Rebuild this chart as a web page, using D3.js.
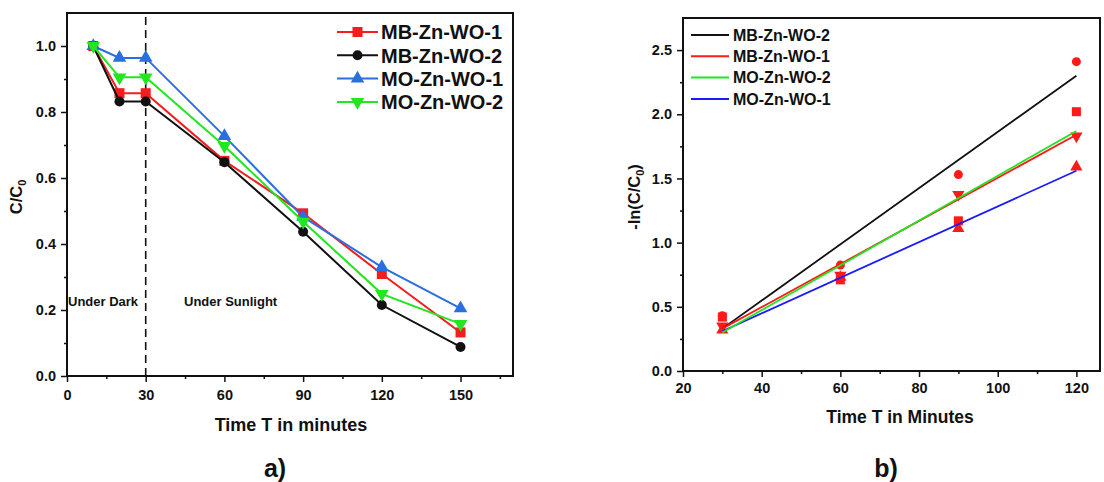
<!DOCTYPE html>
<html>
<head>
<meta charset="utf-8">
<script src="https://cdn.jsdelivr.net/npm/d3@7"></script>
<style>
  body { margin: 0; background: #fff; }
  svg { display: block; font-family: "Liberation Sans", Arial, sans-serif; font-weight: bold; }
</style>
</head>
<body>
<svg id="chart" width="1104" height="482"></svg>
<script>
// panel a) data : C/C0 vs time
const timeA = [10, 20, 30, 60, 90, 120, 150];
const mbZnWo1 = [1.0, 0.857, 0.857, 0.652, 0.493, 0.309, 0.132];
const mbZnWo2 = [1.0, 0.832, 0.832, 0.648, 0.437, 0.215, 0.088];
const moZnWo1 = [1.0, 0.964, 0.964, 0.727, 0.482, 0.330, 0.205];
const moZnWo2 = [1.0, 0.905, 0.905, 0.697, 0.468, 0.249, 0.158];

// panel b) data : -ln(C/C0) points and linear fits
const timeB = [30, 60, 90, 120];
const lnMbZnWo2 = [0.43, 0.825, 1.53, 2.41];
const lnMbZnWo1 = [0.42, 0.71, 1.17, 2.02];
const lnMoZnWo2 = [0.35, 0.745, 1.375, 1.83];
const lnMoZnWo1 = [0.32, 0.73, 1.11, 1.59];
const fitTimes = [30, 120];
const fitMbZnWo2 = [0.33, 2.30];
const fitMbZnWo1 = [0.33, 1.84];
const fitMoZnWo2 = [0.30, 1.87];
const fitMoZnWo1 = [0.31, 1.56];

const ticksAx = [0, 30, 60, 90, 120, 150];
const ticksAy = [0, 0.2, 0.4, 0.6, 0.8, 1.0];
const ticksBx = [20, 40, 60, 80, 100, 120];
const ticksBy = [0, 0.5, 1.0, 1.5, 2.0, 2.5];

const svg = d3.select("#chart");
svg.append("rect").attr("width", 1104).attr("height", 482).attr("fill", "#fff");

const ink = "#111";

function frame(x, y, tx, ty, minorX, minorY, pad) {
  const [x0, x1] = x.range();
  const [y0, y1] = y.range();
  const g = svg.append("g");

  // minor ticks
  g.append("g").attr("transform", `translate(0,${y0})`)
    .call(d3.axisBottom(x).tickValues(minorX).tickSize(3).tickSizeOuter(0).tickFormat(""));
  g.append("g").attr("transform", `translate(${x0},0)`)
    .call(d3.axisLeft(y).tickValues(minorY).tickSize(3).tickSizeOuter(0).tickFormat(""));

  g.append("g").attr("transform", `translate(0,${y0})`)
    .call(d3.axisBottom(x).tickValues(tx).tickSize(6).tickSizeOuter(0).tickPadding(pad)
      .tickFormat(d3.format("d")));
  g.append("g").attr("transform", `translate(${x0},0)`)
    .call(d3.axisLeft(y).tickValues(ty).tickSize(6).tickSizeOuter(0).tickPadding(5)
      .tickFormat(d3.format(".1f")));

  g.selectAll(".domain").remove();
  g.selectAll("line").attr("stroke", ink).attr("stroke-width", 1.5);
  g.selectAll("text").attr("fill", ink).style("font-size", "14.5px")
    .style("font-family", "Liberation Sans, Arial, sans-serif").style("font-weight", "bold");

  g.append("rect")
    .attr("x", x0).attr("y", y1)
    .attr("width", x1 - x0).attr("height", y0 - y1)
    .attr("fill", "none").attr("stroke", ink).attr("stroke-width", 2);
  return g;
}

function marker(g, shape, cx, cy, color, s) {
  if (shape === "circle") {
    g.append("circle").attr("cx", cx).attr("cy", cy).attr("r", s * 0.5).attr("fill", color);
  } else if (shape === "square") {
    g.append("rect").attr("x", cx - s / 2).attr("y", cy - s / 2)
      .attr("width", s).attr("height", s).attr("fill", color);
  } else {
    const sym = d3.symbol().type(d3.symbolTriangle).size(s * s * 0.8);
    g.append("path").attr("d", sym())
      .attr("transform", `translate(${cx},${cy})` + (shape === "down" ? " rotate(180)" : ""))
      .attr("fill", color);
  }
}

// ---------- panel a ----------
const xA = d3.scaleLinear().domain([0, 170]).range([67, 513]);
const yA = d3.scaleLinear().domain([0, 1.1]).range([376, 13]);

frame(xA, yA, ticksAx, ticksAy,
  [15, 45, 75, 105, 135, 165], [0.1, 0.3, 0.5, 0.7, 0.9], 8);

// dark / sunlight divider
svg.append("line")
  .attr("x1", xA(30)).attr("x2", xA(30))
  .attr("y1", yA(0)).attr("y2", yA(1.1))
  .attr("stroke", ink).attr("stroke-width", 1.6)
  .attr("stroke-dasharray", "8,5");

svg.append("text").attr("x", xA(0) + 1).attr("y", 306)
  .style("font-size", "13px").attr("fill", ink).text("Under Dark");
svg.append("text").attr("x", 184).attr("y", 306)
  .style("font-size", "13px").attr("fill", ink).text("Under Sunlight");

const seriesA = [
  { name: "MB-Zn-WO-1", values: mbZnWo1, color: "#f41c1c", shape: "square" },
  { name: "MB-Zn-WO-2", values: mbZnWo2, color: "#111111", shape: "circle" },
  { name: "MO-Zn-WO-1", values: moZnWo1, color: "#2a6fe0", shape: "up" },
  { name: "MO-Zn-WO-2", values: moZnWo2, color: "#22e61e", shape: "down" }
];

const lineA = d3.line().x(d => xA(d[0])).y(d => yA(d[1]));
const plotA = svg.append("g");
seriesA.forEach(s => {
  const pts = timeA.map((t, i) => [t, s.values[i]]);
  plotA.append("path").datum(pts).attr("d", lineA)
    .attr("fill", "none").attr("stroke", s.color).attr("stroke-width", 2);
  pts.forEach(p => marker(plotA, s.shape, xA(p[0]), yA(p[1]), s.color, 10));
});

// legend a
const legA = svg.append("g");
seriesA.forEach((s, i) => {
  const y = 32 + i * 23.3;
  legA.append("line").attr("x1", 337).attr("x2", 378).attr("y1", y).attr("y2", y)
    .attr("stroke", s.color).attr("stroke-width", 2);
  marker(legA, s.shape, 357.5, y, s.color, 10);
  legA.append("text").attr("x", 381).attr("y", y).attr("dy", "0.36em")
    .style("font-size", "20px").attr("fill", ink).text(s.name);
});

// titles a
svg.append("text").attr("x", 291).attr("y", 431).attr("text-anchor", "middle")
  .style("font-size", "18px").attr("fill", ink).text("Time T in minutes");
const yTitleA = svg.append("text").attr("transform", "translate(22,197) rotate(-90)")
  .attr("text-anchor", "middle").style("font-size", "16.5px").attr("fill", ink);
yTitleA.append("tspan").text("C/C");
yTitleA.append("tspan").attr("dy", 4).style("font-size", "11px").text("0");
svg.append("text").attr("x", 275).attr("y", 477).attr("text-anchor", "middle")
  .style("font-size", "25px").attr("fill", ink).text("a)");

// ---------- panel b ----------
const xB = d3.scaleLinear().domain([20, 126]).range([683, 1100]);
const yB = d3.scaleLinear().domain([0, 2.75]).range([371, 18]);

frame(xB, yB, ticksBx, ticksBy,
  [30, 50, 70, 90, 110], [0.25, 0.75, 1.25, 1.75, 2.25], 6);

const seriesB = [
  { name: "MB-Zn-WO-2", pts: lnMbZnWo2, fit: fitMbZnWo2, color: "#111111", shape: "circle" },
  { name: "MB-Zn-WO-1", pts: lnMbZnWo1, fit: fitMbZnWo1, color: "#ff1a1a", shape: "square" },
  { name: "MO-Zn-WO-2", pts: lnMoZnWo2, fit: fitMoZnWo2, color: "#1ee61e", shape: "down" },
  { name: "MO-Zn-WO-1", pts: lnMoZnWo1, fit: fitMoZnWo1, color: "#1a1aff", shape: "up" }
];

const lineB = d3.line().x(d => xB(d[0])).y(d => yB(d[1]));
const plotB = svg.append("g");
seriesB.forEach(s => {
  s.pts.forEach((v, i) => marker(plotB, s.shape, xB(timeB[i]), yB(v), "#ff1a1a", 9));
});
[seriesB[3], seriesB[0], seriesB[1], seriesB[2]].forEach(s => {
  plotB.append("path").datum(fitTimes.map((t, i) => [t, s.fit[i]])).attr("d", lineB)
    .attr("fill", "none").attr("stroke", s.color).attr("stroke-width", 1.8);
});

// legend b
const legB = svg.append("g");
seriesB.forEach((s, i) => {
  const y = 35 + i * 21.3;
  legB.append("line").attr("x1", 691).attr("x2", 729).attr("y1", y).attr("y2", y)
    .attr("stroke", s.color).attr("stroke-width", 2);
  legB.append("text").attr("x", 733).attr("y", y).attr("dy", "0.36em")
    .style("font-size", "16px").attr("fill", ink).text(s.name);
});

// titles b
svg.append("text").attr("x", 900).attr("y", 423).attr("text-anchor", "middle")
  .style("font-size", "17.5px").attr("fill", ink).text("Time T in Minutes");
const yTitleB = svg.append("text").attr("transform", "translate(640,197) rotate(-90)")
  .attr("text-anchor", "middle").style("font-size", "16.5px").attr("fill", ink);
yTitleB.append("tspan").text("-ln(C/C");
yTitleB.append("tspan").attr("dy", 4).style("font-size", "11px").text("0");
yTitleB.append("tspan").attr("dy", -4).text(")");
svg.append("text").attr("x", 886).attr("y", 477).attr("text-anchor", "middle")
  .style("font-size", "25px").attr("fill", ink).text("b)");
</script>
</body>
</html>
